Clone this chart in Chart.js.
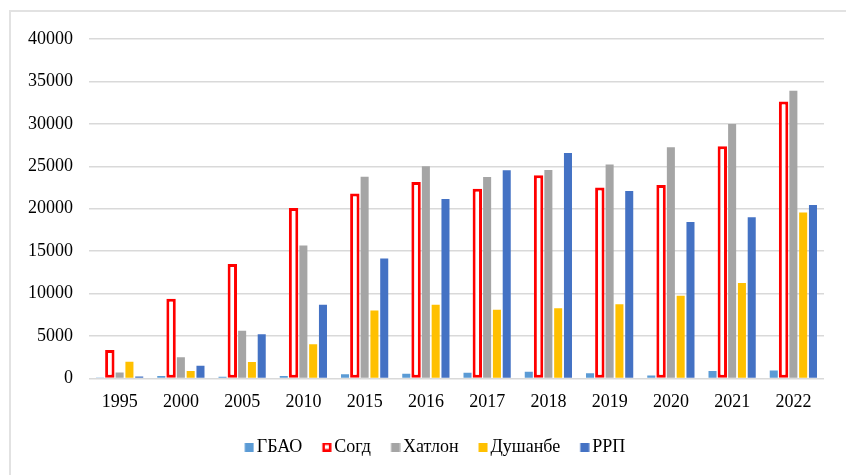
<!DOCTYPE html>
<html>
<head>
<meta charset="utf-8">
<script src="https://cdn.jsdelivr.net/npm/chart.js@4/dist/chart.umd.min.js"></script>
<style>
  html, body { margin: 0; padding: 0; background: #fff; }
  #wrap { position: relative; width: 846px; height: 475px; overflow: hidden; }
  #frame { position: absolute; left: 9px; top: 10px; width: 900px; height: 520px; border: 2px solid #E2E2E2; box-sizing: border-box; }
  canvas#c { position: absolute; left: 0; top: 0; }
</style>
</head>
<body>
<div id="wrap">
  <div id="frame"></div>
  <canvas id="c" width="846" height="475"></canvas>
</div>
<script>
const years = ['1995','2000','2005','2010','2015','2016','2017','2018','2019','2020','2021','2022'];
const gbao     = [50, 300, 200, 300, 500, 550, 670, 790, 630, 350, 870, 950];
const sogd     = [3350, 9400, 13500, 20100, 21800, 23150, 22350, 23950, 22500, 22800, 27350, 32650];
const khatlon  = [700, 2500, 5630, 15670, 23780, 25000, 23750, 24570, 25200, 27250, 30000, 33900];
const dushanbe = [1970, 870, 1930, 4050, 8000, 8700, 8100, 8270, 8750, 9750, 11250, 19550];
const rrp      = [230, 1500, 5200, 8700, 14130, 21150, 24530, 26580, 22100, 18450, 19000, 20450];
const seriesNames = ['ГБАО', 'Согд', 'Хатлон', 'Душанбе', 'РРП'];
const yTicks = [0, 5000, 10000, 15000, 20000, 25000, 30000, 35000, 40000];

const FONT = "'Liberation Serif', 'Times New Roman', serif";

// legend marker images: square drawn in the right part so the gap to the text stays small
function marker(fill, stroke) {
  const cv = document.createElement('canvas');
  cv.width = 14; cv.height = 9;
  const g = cv.getContext('2d');
  if (stroke) {
    g.fillStyle = stroke; g.fillRect(4.5, 0, 9, 9);
    g.fillStyle = fill; g.fillRect(7, 2.5, 4, 4);
  } else {
    g.fillStyle = fill; g.fillRect(4.5, 0, 9, 9);
  }
  return cv;
}
const markers = [
  marker('#5B9BD5'), marker('#FFFFFF', '#FF0000'), marker('#A5A5A5'), marker('#FFC000'), marker('#4472C4')
];

const legendShift = {
  id: 'legendShift',
  afterLayout(chart) {
    const l = chart.legend;
    if (l) { l.left += 24; l.right += 24; }
  }
};

new Chart(document.getElementById('c'), {
  type: 'bar',
  data: {
    labels: years,
    datasets: [
      { label: seriesNames[0], data: gbao, backgroundColor: '#5B9BD5', borderWidth: 0, barPercentage: 0.82 },
      { label: seriesNames[1], data: sogd, backgroundColor: '#FFFFFF', borderColor: '#FF0000', borderWidth: 3, borderSkipped: false, barPercentage: 0.96 },
      { label: seriesNames[2], data: khatlon, backgroundColor: '#A5A5A5', borderWidth: 0, barPercentage: 0.82 },
      { label: seriesNames[3], data: dushanbe, backgroundColor: '#FFC000', borderWidth: 0, barPercentage: 0.82 },
      { label: seriesNames[4], data: rrp, backgroundColor: '#4472C4', borderWidth: 0, barPercentage: 0.82 }
    ]
  },
  options: {
    responsive: false,
    animation: false,
    layout: { padding: { left: 0, right: 22, top: 39, bottom: 9 } },
    datasets: { bar: { categoryPercentage: 0.8 } },
    scales: {
      x: {
        grid: { display: false, drawTicks: false },
        border: { display: false },
        ticks: { color: '#000', font: { family: FONT, size: 18 }, padding: 13, maxRotation: 0 },
        afterFit: s => { s.height = 37.5; }
      },
      y: {
        min: 0, max: 40000,
        afterBuildTicks: s => { s.ticks = yTicks.map(v => ({ value: v })); },
        grid: { color: '#D9D9D9', lineWidth: 1.5, drawTicks: false },
        border: { display: false },
        ticks: { color: '#000', font: { family: FONT, size: 18 }, padding: 16, callback: v => String(v) },
        afterFit: s => { s.width = 89; }
      }
    },
    plugins: {
      legend: {
        position: 'bottom',
        labels: {
          color: '#000',
          font: { family: FONT, size: 18 },
          usePointStyle: true,
          boxWidth: 1, boxHeight: 9,
          padding: 22,
          generateLabels(chart) {
            const items = Chart.defaults.plugins.legend.labels.generateLabels(chart);
            items.forEach((it, i) => { it.pointStyle = markers[i]; });
            return items;
          }
        }
      },
      tooltip: { enabled: false }
    }
  },
  plugins: [legendShift]
});
</script>
</body>
</html>
